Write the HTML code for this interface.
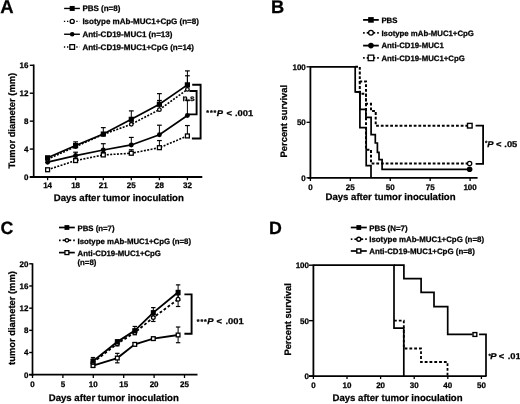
<!DOCTYPE html>
<html><head><meta charset="utf-8"><style>
html,body{margin:0;padding:0;background:#fff;overflow:hidden;}
svg{display:block;}
#w{width:520px;height:404px;will-change:transform;}
text{font-family:"Liberation Sans", sans-serif;font-weight:bold;fill:#000;stroke:#000;stroke-width:0.25px;text-rendering:geometricPrecision;}
</style></head><body><div id="w">
<svg width="520" height="404" viewBox="0 0 520 404">
<rect width="520" height="404" fill="#fff"/>
<g>
<text x="0.20" y="12.60" font-size="18.5" text-anchor="start" >A</text>
<line x1="64.10" y1="8.45" x2="79.90" y2="8.45" stroke="#000" stroke-width="1.4"/>
<rect x="69.70" y="5.95" width="5.00" height="5.00" fill="#000"/>
<text x="82.40" y="11.25" font-size="8.0" text-anchor="start" >PBS (n=8)</text>
<line x1="63.90" y1="21.40" x2="79.60" y2="21.40" stroke="#000" stroke-width="1.3" stroke-dasharray="1.3,1.8"/>
<circle cx="72.20" cy="21.40" r="2.05" fill="#fff" stroke="#000" stroke-width="1.30"/>
<text x="82.40" y="24.20" font-size="8.0" text-anchor="start" >Isotype mAb-MUC1+CpG (n=8)</text>
<line x1="64.10" y1="34.25" x2="79.90" y2="34.25" stroke="#000" stroke-width="1.4"/>
<circle cx="72.20" cy="34.25" r="2.30" fill="#000"/>
<text x="82.40" y="37.05" font-size="8.0" text-anchor="start" >Anti-CD19-MUC1 (n=13)</text>
<line x1="63.90" y1="47.00" x2="79.60" y2="47.00" stroke="#000" stroke-width="1.3" stroke-dasharray="1.3,1.8"/>
<rect x="69.85" y="44.65" width="4.70" height="4.70" fill="#fff" stroke="#000" stroke-width="1.30"/>
<text x="82.40" y="49.80" font-size="8.0" text-anchor="start" >Anti-CD19-MUC1+CpG (n=14)</text>
<line x1="33.70" y1="64.50" x2="33.70" y2="178.00" stroke="#000" stroke-width="1.7"/>
<line x1="29.80" y1="177.00" x2="202.30" y2="177.00" stroke="#000" stroke-width="1.8"/>
<line x1="29.80" y1="177.00" x2="33.70" y2="177.00" stroke="#000" stroke-width="1.4"/>
<text x="28.50" y="179.85" font-size="8" text-anchor="end" >0</text>
<line x1="29.80" y1="149.07" x2="33.70" y2="149.07" stroke="#000" stroke-width="1.4"/>
<text x="28.50" y="151.92" font-size="8" text-anchor="end" >4</text>
<line x1="29.80" y1="121.15" x2="33.70" y2="121.15" stroke="#000" stroke-width="1.4"/>
<text x="28.50" y="124.00" font-size="8" text-anchor="end" >8</text>
<line x1="29.80" y1="93.22" x2="33.70" y2="93.22" stroke="#000" stroke-width="1.4"/>
<text x="28.50" y="96.07" font-size="8" text-anchor="end" >12</text>
<line x1="29.80" y1="65.30" x2="33.70" y2="65.30" stroke="#000" stroke-width="1.4"/>
<text x="28.50" y="68.15" font-size="8" text-anchor="end" >16</text>
<line x1="47.60" y1="177.00" x2="47.60" y2="180.20" stroke="#000" stroke-width="1.3"/>
<text x="47.60" y="187.50" font-size="8" text-anchor="middle" >14</text>
<line x1="75.60" y1="177.00" x2="75.60" y2="180.20" stroke="#000" stroke-width="1.3"/>
<text x="75.60" y="187.50" font-size="8" text-anchor="middle" >18</text>
<line x1="103.30" y1="177.00" x2="103.30" y2="180.20" stroke="#000" stroke-width="1.3"/>
<text x="103.30" y="187.50" font-size="8" text-anchor="middle" >21</text>
<line x1="131.30" y1="177.00" x2="131.30" y2="180.20" stroke="#000" stroke-width="1.3"/>
<text x="131.30" y="187.50" font-size="8" text-anchor="middle" >25</text>
<line x1="159.40" y1="177.00" x2="159.40" y2="180.20" stroke="#000" stroke-width="1.3"/>
<text x="159.40" y="187.50" font-size="8" text-anchor="middle" >28</text>
<line x1="187.40" y1="177.00" x2="187.40" y2="180.20" stroke="#000" stroke-width="1.3"/>
<text x="187.40" y="187.50" font-size="8" text-anchor="middle" >32</text>
<text x="118.80" y="200.60" font-size="9.6" text-anchor="middle" >Days after tumor inoculation</text>
<text transform="translate(14.9,120.6) rotate(-90)" font-size="9.4" text-anchor="middle">Tumor diameter (mm)</text>
<line x1="75.60" y1="145.58" x2="75.60" y2="141.88" stroke="#000" stroke-width="1.0"/>
<line x1="73.20" y1="141.88" x2="78.00" y2="141.88" stroke="#000" stroke-width="1.2"/>
<line x1="103.30" y1="134.07" x2="103.30" y2="127.64" stroke="#000" stroke-width="1.0"/>
<line x1="100.90" y1="127.64" x2="105.70" y2="127.64" stroke="#000" stroke-width="1.2"/>
<line x1="131.30" y1="119.33" x2="131.30" y2="110.89" stroke="#000" stroke-width="1.0"/>
<line x1="128.90" y1="110.89" x2="133.70" y2="110.89" stroke="#000" stroke-width="1.2"/>
<line x1="159.40" y1="104.26" x2="159.40" y2="93.64" stroke="#000" stroke-width="1.0"/>
<line x1="157.00" y1="93.64" x2="161.80" y2="93.64" stroke="#000" stroke-width="1.2"/>
<line x1="187.40" y1="84.85" x2="187.40" y2="70.89" stroke="#000" stroke-width="1.0"/>
<line x1="185.00" y1="70.89" x2="189.80" y2="70.89" stroke="#000" stroke-width="1.2"/>
<line x1="47.60" y1="159.20" x2="47.60" y2="156.75" stroke="#000" stroke-width="1.0"/>
<line x1="45.20" y1="156.75" x2="50.00" y2="156.75" stroke="#000" stroke-width="1.2"/>
<line x1="159.40" y1="109.63" x2="159.40" y2="100.49" stroke="#000" stroke-width="1.0"/>
<line x1="157.00" y1="100.49" x2="161.80" y2="100.49" stroke="#000" stroke-width="1.2"/>
<line x1="187.40" y1="89.39" x2="187.40" y2="75.77" stroke="#000" stroke-width="1.0"/>
<line x1="185.00" y1="75.77" x2="189.80" y2="75.77" stroke="#000" stroke-width="1.2"/>
<line x1="47.60" y1="162.20" x2="47.60" y2="159.55" stroke="#000" stroke-width="1.0"/>
<line x1="45.20" y1="159.55" x2="50.00" y2="159.55" stroke="#000" stroke-width="1.2"/>
<line x1="75.60" y1="155.57" x2="75.60" y2="152.22" stroke="#000" stroke-width="1.0"/>
<line x1="73.20" y1="152.22" x2="78.00" y2="152.22" stroke="#000" stroke-width="1.2"/>
<line x1="103.30" y1="149.98" x2="103.30" y2="143.70" stroke="#000" stroke-width="1.0"/>
<line x1="100.90" y1="143.70" x2="105.70" y2="143.70" stroke="#000" stroke-width="1.2"/>
<line x1="131.30" y1="144.96" x2="131.30" y2="137.42" stroke="#000" stroke-width="1.0"/>
<line x1="128.90" y1="137.42" x2="133.70" y2="137.42" stroke="#000" stroke-width="1.2"/>
<line x1="159.40" y1="134.69" x2="159.40" y2="125.20" stroke="#000" stroke-width="1.0"/>
<line x1="157.00" y1="125.20" x2="161.80" y2="125.20" stroke="#000" stroke-width="1.2"/>
<line x1="187.40" y1="115.56" x2="187.40" y2="100.21" stroke="#000" stroke-width="1.0"/>
<line x1="185.00" y1="100.21" x2="189.80" y2="100.21" stroke="#000" stroke-width="1.2"/>
<line x1="75.60" y1="160.59" x2="75.60" y2="158.15" stroke="#000" stroke-width="1.0"/>
<line x1="73.20" y1="158.15" x2="78.00" y2="158.15" stroke="#000" stroke-width="1.2"/>
<line x1="103.30" y1="154.94" x2="103.30" y2="152.57" stroke="#000" stroke-width="1.0"/>
<line x1="100.90" y1="152.57" x2="105.70" y2="152.57" stroke="#000" stroke-width="1.2"/>
<line x1="131.30" y1="153.26" x2="131.30" y2="149.77" stroke="#000" stroke-width="1.0"/>
<line x1="128.90" y1="149.77" x2="133.70" y2="149.77" stroke="#000" stroke-width="1.2"/>
<line x1="159.40" y1="147.68" x2="159.40" y2="140.56" stroke="#000" stroke-width="1.0"/>
<line x1="157.00" y1="140.56" x2="161.80" y2="140.56" stroke="#000" stroke-width="1.2"/>
<line x1="187.40" y1="135.95" x2="187.40" y2="125.55" stroke="#000" stroke-width="1.0"/>
<line x1="185.00" y1="125.55" x2="189.80" y2="125.55" stroke="#000" stroke-width="1.2"/>
<polyline points="47.60,157.80 75.60,145.58 103.30,134.07 131.30,119.33 159.40,104.26 187.40,84.85" fill="none" stroke="#000" stroke-width="1.7" stroke-linejoin="miter" stroke-linecap="butt"/>
<polyline points="47.60,159.20 75.60,146.63 103.30,134.41 131.30,124.29 159.40,109.63 187.40,89.39" fill="none" stroke="#000" stroke-width="1.6" stroke-dasharray="2,1.4" stroke-linejoin="miter" stroke-linecap="butt"/>
<polyline points="47.60,162.20 75.60,155.57 103.30,149.98 131.30,144.96 159.40,134.69 187.40,115.56" fill="none" stroke="#000" stroke-width="1.7" stroke-linejoin="miter" stroke-linecap="butt"/>
<polyline points="47.60,169.74 75.60,160.59 103.30,154.94 131.30,153.26 159.40,147.68 187.40,135.95" fill="none" stroke="#000" stroke-width="1.6" stroke-dasharray="2,1.4" stroke-linejoin="miter" stroke-linecap="butt"/>
<rect x="45.65" y="167.79" width="3.90" height="3.90" fill="#fff" stroke="#000" stroke-width="1.30"/>
<rect x="73.65" y="158.64" width="3.90" height="3.90" fill="#fff" stroke="#000" stroke-width="1.30"/>
<rect x="101.35" y="152.99" width="3.90" height="3.90" fill="#fff" stroke="#000" stroke-width="1.30"/>
<rect x="129.35" y="151.31" width="3.90" height="3.90" fill="#fff" stroke="#000" stroke-width="1.30"/>
<rect x="157.45" y="145.73" width="3.90" height="3.90" fill="#fff" stroke="#000" stroke-width="1.30"/>
<rect x="185.45" y="134.00" width="3.90" height="3.90" fill="#fff" stroke="#000" stroke-width="1.30"/>
<circle cx="47.60" cy="162.20" r="2.45" fill="#000"/>
<circle cx="75.60" cy="155.57" r="2.45" fill="#000"/>
<circle cx="103.30" cy="149.98" r="2.45" fill="#000"/>
<circle cx="131.30" cy="144.96" r="2.45" fill="#000"/>
<circle cx="159.40" cy="134.69" r="2.45" fill="#000"/>
<circle cx="187.40" cy="115.56" r="2.45" fill="#000"/>
<circle cx="47.60" cy="159.20" r="1.80" fill="#fff" stroke="#000" stroke-width="1.30"/>
<circle cx="75.60" cy="146.63" r="1.80" fill="#fff" stroke="#000" stroke-width="1.30"/>
<circle cx="103.30" cy="134.41" r="1.80" fill="#fff" stroke="#000" stroke-width="1.30"/>
<circle cx="131.30" cy="124.29" r="1.80" fill="#fff" stroke="#000" stroke-width="1.30"/>
<circle cx="159.40" cy="109.63" r="1.80" fill="#fff" stroke="#000" stroke-width="1.30"/>
<circle cx="187.40" cy="89.39" r="1.80" fill="#fff" stroke="#000" stroke-width="1.30"/>
<rect x="45.00" y="155.20" width="5.20" height="5.20" fill="#000"/>
<rect x="73.00" y="142.98" width="5.20" height="5.20" fill="#000"/>
<rect x="100.70" y="131.47" width="5.20" height="5.20" fill="#000"/>
<rect x="128.70" y="116.73" width="5.20" height="5.20" fill="#000"/>
<rect x="156.80" y="101.66" width="5.20" height="5.20" fill="#000"/>
<rect x="184.80" y="82.25" width="5.20" height="5.20" fill="#000"/>
<polyline points="192.20,84.80 200.60,84.80 200.60,138.50 191.90,138.50" fill="none" stroke="#000" stroke-width="1.9" stroke-linejoin="miter" stroke-linecap="butt"/>
<polyline points="189.40,91.00 196.60,91.00 196.60,114.40 188.80,114.40" fill="none" stroke="#000" stroke-width="1.9" stroke-linejoin="miter" stroke-linecap="butt"/>
<text x="182.60" y="101.30" font-size="8.4" text-anchor="start" >n.s</text>
<text x="206.30" y="115.30" font-size="7.0" letter-spacing="0.9">***</text>
<text transform="translate(216.80,115.60) scale(1.12,1)" font-size="8.4" font-style="italic">P</text>
<text transform="translate(226.60,115.60) scale(1.12,1)" font-size="8.4" >&lt;</text>
<text transform="translate(234.90,115.60) scale(1.12,1)" font-size="8.4" >.001</text>
<text x="271.00" y="12.60" font-size="18.3" text-anchor="start" >B</text>
<line x1="363.10" y1="19.90" x2="378.80" y2="19.90" stroke="#000" stroke-width="1.8"/>
<rect x="368.15" y="17.10" width="5.60" height="5.60" fill="#000"/>
<text x="381.40" y="22.70" font-size="7.8" text-anchor="start" >PBS</text>
<line x1="363.10" y1="32.80" x2="364.70" y2="32.80" stroke="#000" stroke-width="1.8"/>
<line x1="366.70" y1="32.80" x2="375.20" y2="32.80" stroke="#000" stroke-width="1.8"/>
<line x1="377.20" y1="32.80" x2="378.80" y2="32.80" stroke="#000" stroke-width="1.8"/>
<circle cx="370.95" cy="32.80" r="2.38" fill="#fff" stroke="#000" stroke-width="1.25"/>
<text x="381.40" y="35.60" font-size="7.8" text-anchor="start" >Isotype mAb-MUC1+CpG</text>
<line x1="363.10" y1="45.60" x2="378.80" y2="45.60" stroke="#000" stroke-width="1.8"/>
<circle cx="370.95" cy="45.60" r="2.80" fill="#000"/>
<text x="381.40" y="48.40" font-size="7.8" text-anchor="start" >Anti-CD19-MUC1</text>
<line x1="363.10" y1="57.90" x2="364.70" y2="57.90" stroke="#000" stroke-width="1.8"/>
<line x1="366.70" y1="57.90" x2="375.20" y2="57.90" stroke="#000" stroke-width="1.8"/>
<line x1="377.20" y1="57.90" x2="378.80" y2="57.90" stroke="#000" stroke-width="1.8"/>
<rect x="368.18" y="55.12" width="5.55" height="5.55" fill="#fff" stroke="#000" stroke-width="1.25"/>
<text x="381.40" y="60.70" font-size="7.8" text-anchor="start" >Anti-CD19-MUC1+CpG</text>
<line x1="310.40" y1="66.00" x2="310.40" y2="179.00" stroke="#000" stroke-width="1.8"/>
<line x1="308.00" y1="177.80" x2="477.60" y2="177.80" stroke="#000" stroke-width="1.8"/>
<line x1="306.50" y1="177.80" x2="310.40" y2="177.80" stroke="#000" stroke-width="1.3"/>
<text x="305.80" y="180.65" font-size="8" text-anchor="end" >0</text>
<line x1="306.50" y1="122.30" x2="310.40" y2="122.30" stroke="#000" stroke-width="1.3"/>
<text x="305.80" y="125.15" font-size="8" text-anchor="end" >50</text>
<line x1="306.50" y1="66.80" x2="310.40" y2="66.80" stroke="#000" stroke-width="1.3"/>
<text x="305.80" y="69.65" font-size="8" text-anchor="end" >100</text>
<line x1="310.40" y1="177.80" x2="310.40" y2="181.00" stroke="#000" stroke-width="1.3"/>
<text x="310.40" y="190.00" font-size="8" text-anchor="middle" >0</text>
<line x1="350.32" y1="177.80" x2="350.32" y2="181.00" stroke="#000" stroke-width="1.3"/>
<text x="350.32" y="190.00" font-size="8" text-anchor="middle" >25</text>
<line x1="390.25" y1="177.80" x2="390.25" y2="181.00" stroke="#000" stroke-width="1.3"/>
<text x="390.25" y="190.00" font-size="8" text-anchor="middle" >50</text>
<line x1="430.17" y1="177.80" x2="430.17" y2="181.00" stroke="#000" stroke-width="1.3"/>
<text x="430.17" y="190.00" font-size="8" text-anchor="middle" >75</text>
<line x1="470.10" y1="177.80" x2="470.10" y2="181.00" stroke="#000" stroke-width="1.3"/>
<text x="470.10" y="190.00" font-size="8" text-anchor="middle" >100</text>
<text x="390.50" y="200.10" font-size="9.6" text-anchor="middle" >Days after tumor inoculation</text>
<text transform="translate(287.4,121.2) rotate(-90)" font-size="9.4" text-anchor="middle">Percent survival</text>
<polyline points="355.20,66.80 359.80,66.80 359.80,81.40 366.00,81.40 366.00,103.80 371.00,103.80 371.00,111.00 375.70,111.00 375.70,125.80 469.80,125.80" fill="none" stroke="#000" stroke-width="2.0" stroke-dasharray="2.8,1.9" stroke-linejoin="miter" stroke-linecap="butt"/>
<polyline points="359.80,81.40 359.80,93.80 366.00,93.80 366.00,149.80 371.00,149.80 371.00,163.60 469.80,163.60" fill="none" stroke="#000" stroke-width="2.0" stroke-dasharray="2.8,1.9" stroke-linejoin="miter" stroke-linecap="butt"/>
<polyline points="310.40,66.80 355.20,66.80 355.20,91.80 359.90,91.80 359.90,127.70 366.20,127.70 366.20,165.60 371.00,165.60 371.00,177.80" fill="none" stroke="#000" stroke-width="1.7" stroke-linejoin="miter" stroke-linecap="butt"/>
<polyline points="355.20,91.80 359.90,91.80 359.90,109.40 365.90,109.40 365.90,117.40 371.10,117.40 371.10,134.70 375.30,134.70 375.30,143.00 377.40,143.00 377.40,152.30 379.00,152.30 379.00,159.70 382.10,159.70 382.10,169.30 469.80,169.30" fill="none" stroke="#000" stroke-width="1.7" stroke-linejoin="miter" stroke-linecap="butt"/>
<rect x="467.50" y="123.40" width="4.60" height="4.60" fill="#fff" stroke="#000" stroke-width="1.40"/>
<circle cx="469.60" cy="163.50" r="2.15" fill="#fff" stroke="#000" stroke-width="1.30"/>
<circle cx="469.60" cy="169.20" r="2.80" fill="#000"/>
<polyline points="475.60,125.70 483.10,125.70 483.10,163.80 475.60,163.80" fill="none" stroke="#000" stroke-width="1.8" stroke-linejoin="miter" stroke-linecap="butt"/>
<text x="485.10" y="145.10" font-size="6.2" letter-spacing="0.9">*</text>
<text transform="translate(487.30,146.50) scale(1.12,1)" font-size="8.4" font-style="italic">P</text>
<text transform="translate(496.00,146.50) scale(1.12,1)" font-size="8.4" >&lt;</text>
<text transform="translate(504.30,146.50) scale(1.12,1)" font-size="8.4" >.05</text>
<text x="0.60" y="233.60" font-size="17.8" text-anchor="start" >C</text>
<line x1="59.00" y1="227.50" x2="74.80" y2="227.50" stroke="#000" stroke-width="1.7"/>
<rect x="64.50" y="225.10" width="4.80" height="4.80" fill="#000"/>
<text x="77.50" y="230.90" font-size="7.8" text-anchor="start" >PBS (n=7)</text>
<line x1="59.00" y1="240.30" x2="60.60" y2="240.30" stroke="#000" stroke-width="1.7"/>
<line x1="62.60" y1="240.30" x2="71.20" y2="240.30" stroke="#000" stroke-width="1.7"/>
<line x1="73.20" y1="240.30" x2="74.80" y2="240.30" stroke="#000" stroke-width="1.7"/>
<circle cx="66.90" cy="240.30" r="1.75" fill="#fff" stroke="#000" stroke-width="1.30"/>
<text x="77.50" y="243.70" font-size="7.8" text-anchor="start" >Isotype mAb-MUC1+CpG (n=8)</text>
<line x1="59.00" y1="252.60" x2="74.80" y2="252.60" stroke="#000" stroke-width="1.7"/>
<rect x="64.95" y="250.65" width="3.90" height="3.90" fill="#fff" stroke="#000" stroke-width="1.30"/>
<text x="77.50" y="256.00" font-size="7.8" text-anchor="start" >Anti-CD19-MUC1+CpG</text>
<text x="77.50" y="265.30" font-size="7.8" text-anchor="start" >(n=8)</text>
<line x1="32.50" y1="263.30" x2="32.50" y2="376.00" stroke="#000" stroke-width="1.7"/>
<line x1="29.20" y1="374.70" x2="197.50" y2="374.70" stroke="#000" stroke-width="1.8"/>
<line x1="29.20" y1="374.70" x2="32.50" y2="374.70" stroke="#000" stroke-width="1.4"/>
<text x="28.50" y="377.55" font-size="8" text-anchor="end" >0</text>
<line x1="29.20" y1="352.52" x2="32.50" y2="352.52" stroke="#000" stroke-width="1.4"/>
<text x="28.50" y="355.37" font-size="8" text-anchor="end" >4</text>
<line x1="29.20" y1="330.34" x2="32.50" y2="330.34" stroke="#000" stroke-width="1.4"/>
<text x="28.50" y="333.19" font-size="8" text-anchor="end" >8</text>
<line x1="29.20" y1="308.16" x2="32.50" y2="308.16" stroke="#000" stroke-width="1.4"/>
<text x="28.50" y="311.01" font-size="8" text-anchor="end" >12</text>
<line x1="29.20" y1="285.98" x2="32.50" y2="285.98" stroke="#000" stroke-width="1.4"/>
<text x="28.50" y="288.83" font-size="8" text-anchor="end" >16</text>
<line x1="29.20" y1="263.80" x2="32.50" y2="263.80" stroke="#000" stroke-width="1.4"/>
<text x="28.50" y="266.65" font-size="8" text-anchor="end" >20</text>
<line x1="32.50" y1="374.70" x2="32.50" y2="378.00" stroke="#000" stroke-width="1.3"/>
<text x="32.50" y="387.00" font-size="8" text-anchor="middle" >0</text>
<line x1="62.90" y1="374.70" x2="62.90" y2="378.00" stroke="#000" stroke-width="1.3"/>
<text x="62.90" y="387.00" font-size="8" text-anchor="middle" >5</text>
<line x1="93.30" y1="374.70" x2="93.30" y2="378.00" stroke="#000" stroke-width="1.3"/>
<text x="93.30" y="387.00" font-size="8" text-anchor="middle" >10</text>
<line x1="123.70" y1="374.70" x2="123.70" y2="378.00" stroke="#000" stroke-width="1.3"/>
<text x="123.70" y="387.00" font-size="8" text-anchor="middle" >15</text>
<line x1="154.10" y1="374.70" x2="154.10" y2="378.00" stroke="#000" stroke-width="1.3"/>
<text x="154.10" y="387.00" font-size="8" text-anchor="middle" >20</text>
<line x1="184.50" y1="374.70" x2="184.50" y2="378.00" stroke="#000" stroke-width="1.3"/>
<text x="184.50" y="387.00" font-size="8" text-anchor="middle" >25</text>
<text x="113.80" y="400.60" font-size="9.6" text-anchor="middle" >Days after tumor inoculation</text>
<text transform="translate(14.8,318) rotate(-90)" font-size="9.4" text-anchor="middle">tumor diameter (mm)</text>
<line x1="93.00" y1="364.72" x2="93.00" y2="357.51" stroke="#000" stroke-width="1.0"/>
<line x1="90.80" y1="364.72" x2="95.20" y2="364.72" stroke="#000" stroke-width="1.2"/>
<line x1="90.80" y1="357.51" x2="95.20" y2="357.51" stroke="#000" stroke-width="1.2"/>
<line x1="117.30" y1="344.20" x2="117.30" y2="339.77" stroke="#000" stroke-width="1.0"/>
<line x1="115.10" y1="344.20" x2="119.50" y2="344.20" stroke="#000" stroke-width="1.2"/>
<line x1="115.10" y1="339.77" x2="119.50" y2="339.77" stroke="#000" stroke-width="1.2"/>
<line x1="134.80" y1="333.67" x2="134.80" y2="326.46" stroke="#000" stroke-width="1.0"/>
<line x1="132.60" y1="333.67" x2="137.00" y2="333.67" stroke="#000" stroke-width="1.2"/>
<line x1="132.60" y1="326.46" x2="137.00" y2="326.46" stroke="#000" stroke-width="1.2"/>
<line x1="153.30" y1="316.48" x2="153.30" y2="307.61" stroke="#000" stroke-width="1.0"/>
<line x1="151.10" y1="316.48" x2="155.50" y2="316.48" stroke="#000" stroke-width="1.2"/>
<line x1="151.10" y1="307.61" x2="155.50" y2="307.61" stroke="#000" stroke-width="1.2"/>
<line x1="178.10" y1="300.40" x2="178.10" y2="284.87" stroke="#000" stroke-width="1.0"/>
<line x1="175.90" y1="300.40" x2="180.30" y2="300.40" stroke="#000" stroke-width="1.2"/>
<line x1="175.90" y1="284.87" x2="180.30" y2="284.87" stroke="#000" stroke-width="1.2"/>
<line x1="93.00" y1="365.83" x2="93.00" y2="359.17" stroke="#000" stroke-width="1.0"/>
<line x1="90.80" y1="365.83" x2="95.20" y2="365.83" stroke="#000" stroke-width="1.2"/>
<line x1="90.80" y1="359.17" x2="95.20" y2="359.17" stroke="#000" stroke-width="1.2"/>
<line x1="117.30" y1="345.87" x2="117.30" y2="341.43" stroke="#000" stroke-width="1.0"/>
<line x1="115.10" y1="345.87" x2="119.50" y2="345.87" stroke="#000" stroke-width="1.2"/>
<line x1="115.10" y1="341.43" x2="119.50" y2="341.43" stroke="#000" stroke-width="1.2"/>
<line x1="134.80" y1="334.78" x2="134.80" y2="329.79" stroke="#000" stroke-width="1.0"/>
<line x1="132.60" y1="334.78" x2="137.00" y2="334.78" stroke="#000" stroke-width="1.2"/>
<line x1="132.60" y1="329.79" x2="137.00" y2="329.79" stroke="#000" stroke-width="1.2"/>
<line x1="153.30" y1="321.47" x2="153.30" y2="313.70" stroke="#000" stroke-width="1.0"/>
<line x1="151.10" y1="321.47" x2="155.50" y2="321.47" stroke="#000" stroke-width="1.2"/>
<line x1="151.10" y1="313.70" x2="155.50" y2="313.70" stroke="#000" stroke-width="1.2"/>
<line x1="178.10" y1="306.50" x2="178.10" y2="294.85" stroke="#000" stroke-width="1.0"/>
<line x1="175.90" y1="306.50" x2="180.30" y2="306.50" stroke="#000" stroke-width="1.2"/>
<line x1="175.90" y1="294.85" x2="180.30" y2="294.85" stroke="#000" stroke-width="1.2"/>
<line x1="93.00" y1="367.49" x2="93.00" y2="363.61" stroke="#000" stroke-width="1.0"/>
<line x1="90.80" y1="367.49" x2="95.20" y2="367.49" stroke="#000" stroke-width="1.2"/>
<line x1="90.80" y1="363.61" x2="95.20" y2="363.61" stroke="#000" stroke-width="1.2"/>
<line x1="117.30" y1="362.83" x2="117.30" y2="353.35" stroke="#000" stroke-width="1.0"/>
<line x1="115.10" y1="362.83" x2="119.50" y2="362.83" stroke="#000" stroke-width="1.2"/>
<line x1="115.10" y1="353.35" x2="119.50" y2="353.35" stroke="#000" stroke-width="1.2"/>
<line x1="134.80" y1="345.87" x2="134.80" y2="342.54" stroke="#000" stroke-width="1.0"/>
<line x1="132.60" y1="345.87" x2="137.00" y2="345.87" stroke="#000" stroke-width="1.2"/>
<line x1="132.60" y1="342.54" x2="137.00" y2="342.54" stroke="#000" stroke-width="1.2"/>
<line x1="153.30" y1="340.32" x2="153.30" y2="336.99" stroke="#000" stroke-width="1.0"/>
<line x1="151.10" y1="340.32" x2="155.50" y2="340.32" stroke="#000" stroke-width="1.2"/>
<line x1="151.10" y1="336.99" x2="155.50" y2="336.99" stroke="#000" stroke-width="1.2"/>
<line x1="178.10" y1="342.71" x2="178.10" y2="327.01" stroke="#000" stroke-width="1.0"/>
<line x1="175.90" y1="342.71" x2="180.30" y2="342.71" stroke="#000" stroke-width="1.2"/>
<line x1="175.90" y1="327.01" x2="180.30" y2="327.01" stroke="#000" stroke-width="1.2"/>
<polyline points="93.00,361.23 117.30,341.87 134.80,330.62 153.30,312.60 178.10,292.30" fill="none" stroke="#000" stroke-width="1.9" stroke-linejoin="miter" stroke-linecap="butt"/>
<polyline points="93.00,362.50 117.30,343.65 134.80,332.56 153.30,317.59 178.10,299.29" fill="none" stroke="#000" stroke-width="1.8" stroke-dasharray="2.8,2.1" stroke-linejoin="miter" stroke-linecap="butt"/>
<polyline points="93.00,365.55 117.30,358.06 134.80,344.37 153.30,338.66 178.10,335.00" fill="none" stroke="#000" stroke-width="1.9" stroke-linejoin="miter" stroke-linecap="butt"/>
<rect x="91.15" y="363.70" width="3.70" height="3.70" fill="#fff" stroke="#000" stroke-width="1.30"/>
<rect x="115.45" y="356.21" width="3.70" height="3.70" fill="#fff" stroke="#000" stroke-width="1.30"/>
<rect x="132.95" y="342.52" width="3.70" height="3.70" fill="#fff" stroke="#000" stroke-width="1.30"/>
<rect x="151.45" y="336.81" width="3.70" height="3.70" fill="#fff" stroke="#000" stroke-width="1.30"/>
<rect x="176.25" y="333.15" width="3.70" height="3.70" fill="#fff" stroke="#000" stroke-width="1.30"/>
<circle cx="93.00" cy="362.50" r="1.85" fill="#fff" stroke="#000" stroke-width="1.30"/>
<circle cx="117.30" cy="343.65" r="1.85" fill="#fff" stroke="#000" stroke-width="1.30"/>
<circle cx="134.80" cy="332.56" r="1.85" fill="#fff" stroke="#000" stroke-width="1.30"/>
<circle cx="153.30" cy="317.59" r="1.85" fill="#fff" stroke="#000" stroke-width="1.30"/>
<circle cx="178.10" cy="299.29" r="1.85" fill="#fff" stroke="#000" stroke-width="1.30"/>
<rect x="90.50" y="358.73" width="5.00" height="5.00" fill="#000"/>
<rect x="114.80" y="339.37" width="5.00" height="5.00" fill="#000"/>
<rect x="132.30" y="328.12" width="5.00" height="5.00" fill="#000"/>
<rect x="150.80" y="310.10" width="5.00" height="5.00" fill="#000"/>
<rect x="175.60" y="289.80" width="5.00" height="5.00" fill="#000"/>
<polyline points="184.40,294.40 191.60,294.40 191.60,333.80 184.40,333.80" fill="none" stroke="#000" stroke-width="1.9" stroke-linejoin="miter" stroke-linecap="butt"/>
<text x="196.80" y="324.00" font-size="7.0" letter-spacing="0.9">***</text>
<text transform="translate(207.30,324.30) scale(1.12,1)" font-size="8.4" font-style="italic">P</text>
<text transform="translate(216.60,324.30) scale(1.12,1)" font-size="8.4" >&lt;</text>
<text transform="translate(225.40,324.30) scale(1.12,1)" font-size="8.4" >.001</text>
<text x="269.00" y="233.50" font-size="17.8" text-anchor="start" >D</text>
<line x1="350.80" y1="227.50" x2="366.80" y2="227.50" stroke="#000" stroke-width="1.7"/>
<rect x="356.40" y="225.10" width="4.80" height="4.80" fill="#000"/>
<text x="369.20" y="230.50" font-size="7.9" text-anchor="start" >PBS (N=7)</text>
<line x1="350.80" y1="239.20" x2="352.40" y2="239.20" stroke="#000" stroke-width="1.7"/>
<line x1="354.40" y1="239.20" x2="363.20" y2="239.20" stroke="#000" stroke-width="1.7"/>
<line x1="365.20" y1="239.20" x2="366.80" y2="239.20" stroke="#000" stroke-width="1.7"/>
<circle cx="358.80" cy="239.20" r="2.00" fill="#fff" stroke="#000" stroke-width="1.40"/>
<text x="369.20" y="242.20" font-size="7.9" text-anchor="start" >Isotype mAb-MUC1+CpG (n=8)</text>
<line x1="350.80" y1="251.00" x2="366.80" y2="251.00" stroke="#000" stroke-width="1.7"/>
<rect x="356.80" y="249.00" width="4.00" height="4.00" fill="#fff" stroke="#000" stroke-width="1.40"/>
<text x="369.20" y="254.00" font-size="7.9" text-anchor="start" >Anti-CD19-MUC1+CpG (n=8)</text>
<line x1="313.40" y1="264.50" x2="313.40" y2="377.00" stroke="#000" stroke-width="1.8"/>
<line x1="309.00" y1="376.10" x2="486.60" y2="376.10" stroke="#000" stroke-width="1.8"/>
<line x1="309.00" y1="376.10" x2="313.40" y2="376.10" stroke="#000" stroke-width="1.4"/>
<text x="309.00" y="378.95" font-size="8" text-anchor="end" >0</text>
<line x1="309.00" y1="320.65" x2="313.40" y2="320.65" stroke="#000" stroke-width="1.4"/>
<text x="309.00" y="323.50" font-size="8" text-anchor="end" >50</text>
<line x1="309.00" y1="265.20" x2="313.40" y2="265.20" stroke="#000" stroke-width="1.4"/>
<text x="309.00" y="268.05" font-size="8" text-anchor="end" >100</text>
<line x1="313.40" y1="376.10" x2="313.40" y2="379.00" stroke="#000" stroke-width="1.3"/>
<text x="313.40" y="388.30" font-size="8" text-anchor="middle" >0</text>
<line x1="347.00" y1="376.10" x2="347.00" y2="379.00" stroke="#000" stroke-width="1.3"/>
<text x="347.00" y="388.30" font-size="8" text-anchor="middle" >10</text>
<line x1="380.60" y1="376.10" x2="380.60" y2="379.00" stroke="#000" stroke-width="1.3"/>
<text x="380.60" y="388.30" font-size="8" text-anchor="middle" >20</text>
<line x1="414.20" y1="376.10" x2="414.20" y2="379.00" stroke="#000" stroke-width="1.3"/>
<text x="414.20" y="388.30" font-size="8" text-anchor="middle" >30</text>
<line x1="447.80" y1="376.10" x2="447.80" y2="379.00" stroke="#000" stroke-width="1.3"/>
<text x="447.80" y="388.30" font-size="8" text-anchor="middle" >40</text>
<line x1="481.40" y1="376.10" x2="481.40" y2="379.00" stroke="#000" stroke-width="1.3"/>
<text x="481.40" y="388.30" font-size="8" text-anchor="middle" >50</text>
<text x="397.50" y="401.30" font-size="9.6" text-anchor="middle" >Days after tumor inoculation</text>
<text transform="translate(290.6,319.4) rotate(-90)" font-size="9.4" text-anchor="middle">Percent survival</text>
<polyline points="313.40,265.20 394.00,265.20 394.00,328.20 403.80,328.20 403.80,376.10" fill="none" stroke="#000" stroke-width="1.7" stroke-linejoin="miter" stroke-linecap="butt"/>
<polyline points="394.00,320.70 403.80,320.70 403.80,348.50 421.00,348.50 421.00,362.00 447.50,362.00 447.50,376.10" fill="none" stroke="#000" stroke-width="1.8" stroke-dasharray="2.8,2" stroke-linejoin="miter" stroke-linecap="butt"/>
<polyline points="394.00,265.20 403.90,265.20 403.90,278.60 421.10,278.60 421.10,292.40 434.00,292.40 434.00,306.70 447.70,306.70 447.70,334.40 472.50,334.40" fill="none" stroke="#000" stroke-width="1.7" stroke-linejoin="miter" stroke-linecap="butt"/>
<polyline points="479.10,334.40 486.00,334.40 486.00,376.10" fill="none" stroke="#000" stroke-width="1.7" stroke-linejoin="miter" stroke-linecap="butt"/>
<rect x="473.00" y="332.60" width="3.80" height="3.80" fill="#fff" stroke="#000" stroke-width="1.40"/>
<text x="488.40" y="357.70" font-size="6.2" letter-spacing="0.9">*</text>
<text transform="translate(490.20,359.10) scale(1.12,1)" font-size="8.4" font-style="italic">P</text>
<text transform="translate(498.80,359.10) scale(1.12,1)" font-size="8.4" >&lt;</text>
<text transform="translate(507.70,359.10) scale(1.12,1)" font-size="8.4" >.01</text>
</g>
</svg></div>
</body></html>
